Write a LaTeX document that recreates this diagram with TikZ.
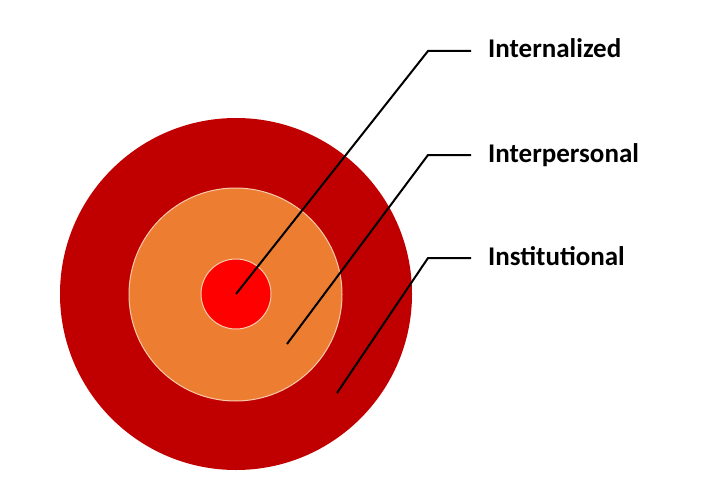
\documentclass[tikz,border=0pt]{standalone}
\usepackage{fontspec}
\setmainfont{Carlito}
\definecolor{outerred}{HTML}{C00000}
\definecolor{midorange}{HTML}{ED7D31}
\definecolor{innerred}{HTML}{FF0000}
\definecolor{ringline}{HTML}{F8CBAD}
\begin{document}
\begin{tikzpicture}[x=1pt,y=-1pt,
  ring/.style={circle,inner sep=0pt,outer sep=0pt},
  leader/.style={draw=black,line width=2pt,line join=miter},
  lab/.style={anchor=base west,inner sep=0pt,font=\fontsize{27}{30}\selectfont\bfseries,text=black}]
\useasboundingbox (0,0) rectangle (711,476);
\node[ring,fill=outerred,minimum size=352pt] (outer) at (236,294) {};
\node[ring,fill=midorange,draw=ringline,line width=1pt,minimum size=213pt] (middle) at (235.5,294.5) {};
\node[ring,fill=innerred,draw=ringline,line width=1pt,minimum size=70pt] (inner) at (236,294) {};
% labels
\node[lab] (l1) at (488,57.5) {Internalized};
\node[lab] (l2) at (488,162.5) {Interpersonal};
\node[lab] (l3) at (488,265.5) {Institutional};
% leader points
\coordinate (s2) at (287,344);
\coordinate (s3) at (337,393);
\coordinate (b1) at (428,51);
\coordinate (b2) at (428,155);
\coordinate (b3) at (428,258);
\coordinate (e1) at (471,51);
\coordinate (e2) at (471,155);
\coordinate (e3) at (471,258);
\draw[leader] (inner.center) -- (b1) -- (e1);
\draw[leader] (s2) -- (b2) -- (e2);
\draw[leader] (s3) -- (b3) -- (e3);
\end{tikzpicture}
\end{document}
